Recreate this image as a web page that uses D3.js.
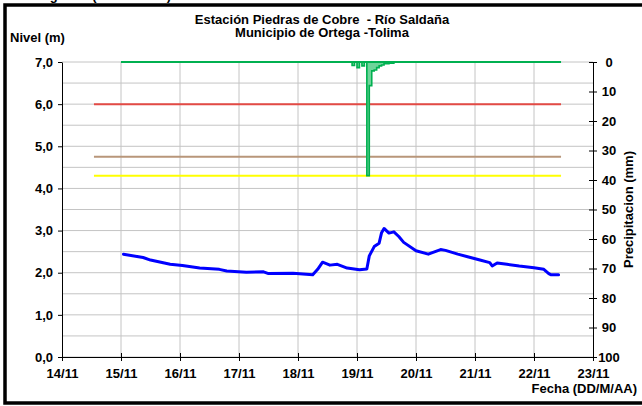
<!DOCTYPE html>
<html>
<head>
<meta charset="utf-8">
<script src="https://cdn.jsdelivr.net/npm/d3@7"></script>
<style>
body { margin: 0; background: #fff; }
svg text { font-family: Arial, "Liberation Sans", sans-serif; font-weight: bold; font-size: 13px; fill: #000; white-space: pre; }
</style>
</head>
<body>
<svg width="642" height="406"></svg>
<script>
"use strict";

const topLeftX = 62;
const topLeftY = 62;
const bottomRightX = 593;
const bottomRightY = 357;

// nivel del rio (m)
const nivelFechas = [
    "2011-11-15 01:00", "2011-11-15 09:00", "2011-11-15 12:00", "2011-11-15 20:00",
    "2011-11-16 01:00", "2011-11-16 08:00", "2011-11-16 16:00", "2011-11-16 19:00",
    "2011-11-17 03:00", "2011-11-17 10:00", "2011-11-17 12:00", "2011-11-17 22:00",
    "2011-11-18 06:00", "2011-11-18 08:00", "2011-11-18 10:00", "2011-11-18 13:00",
    "2011-11-18 16:00", "2011-11-18 20:00", "2011-11-19 01:00", "2011-11-19 04:00",
    "2011-11-19 05:00", "2011-11-19 07:00", "2011-11-19 09:00", "2011-11-19 10:00",
    "2011-11-19 11:00", "2011-11-19 13:00", "2011-11-19 15:00", "2011-11-19 17:00",
    "2011-11-19 19:00", "2011-11-20 00:00", "2011-11-20 05:00", "2011-11-20 10:00",
    "2011-11-20 12:00", "2011-11-20 17:00", "2011-11-20 21:00", "2011-11-21 02:00",
    "2011-11-21 06:00", "2011-11-21 07:00", "2011-11-21 09:00", "2011-11-21 13:00",
    "2011-11-21 18:00", "2011-11-22 00:00", "2011-11-22 04:00", "2011-11-22 06:00",
    "2011-11-22 07:00", "2011-11-22 10:00"
];
const nivelValores = [
    2.44, 2.36, 2.30, 2.20,
    2.17, 2.11, 2.08, 2.04,
    2.01, 2.02, 1.98, 1.99,
    1.95, 2.08, 2.25, 2.18,
    2.20, 2.11, 2.07, 2.09,
    2.40, 2.62, 2.70, 2.95,
    3.05, 2.94, 2.97, 2.86,
    2.72, 2.52, 2.44, 2.55,
    2.53, 2.44, 2.38, 2.30,
    2.24, 2.16, 2.23, 2.20,
    2.16, 2.12, 2.08, 1.98,
    1.95, 1.95
];

// precipitacion (mm)
const lluviaFechas = [
    "2011-11-15 00:00", "2011-11-18 22:00", "2011-11-18 23:00", "2011-11-19 00:00",
    "2011-11-19 01:00", "2011-11-19 02:00", "2011-11-19 03:00", "2011-11-19 04:00",
    "2011-11-19 05:00", "2011-11-19 06:00", "2011-11-19 07:00", "2011-11-19 08:00",
    "2011-11-19 09:00", "2011-11-19 10:00", "2011-11-19 11:00", "2011-11-19 12:00",
    "2011-11-19 13:00", "2011-11-19 14:00", "2011-11-19 15:00", "2011-11-22 11:00"
];
const lluviaValores = [
    0, 1.2, 0, 1.9,
    0, 1.3, 0, 38.5,
    8.0, 3.0, 2.7, 1.9,
    1.3, 1.0, 0.6, 0.6,
    0.4, 0.4, 0, 0
];

// niveles de alerta (m)
const umbrales = [6.0, 4.75, 4.3];
const umbralColores = ["#E34A45", "#B8967A", "#FFFF00"];
const umbralPeriodo = ["2011-11-14 13:00", "2011-11-22 11:00"];

const diasTicks = ["14/11", "15/11", "16/11", "17/11", "18/11", "19/11", "20/11", "21/11", "22/11", "23/11"];
const nivelTicks = [0, 1, 2, 3, 4, 5, 6, 7];
const lluviaTicks = [0, 10, 20, 30, 40, 50, 60, 70, 80, 90, 100];

const parseHora = d3.timeParse("%Y-%m-%d %H:%M");
const parseDia = d3.timeParse("%d/%m/%Y");

function init() {
    const svg = d3.select("svg");
    const dias = diasTicks.map(d => parseDia(d + "/2011"));

    const xScale = d3.scaleTime()
        .domain([dias[0], dias[dias.length - 1]])
        .range([topLeftX, bottomRightX]);
    const yNivel = d3.scaleLinear()
        .domain([0, 7])
        .range([bottomRightY, topLeftY]);
    const yLluvia = d3.scaleLinear()
        .domain([0, 100])
        .range([topLeftY, bottomRightY]);

    // marco exterior
    svg.append("rect")
        .attr("x", 5).attr("y", 5)
        .attr("width", 660).attr("height", 398)
        .attr("fill", "none")
        .attr("stroke", "#000")
        .attr("stroke-width", 3.5);

    svg.append("text")
        .attr("x", 15).attr("y", 0)
        .text("Limnigrama (Nivel diario)");

    // rejilla
    svg.append("g")
        .selectAll("line")
        .data(yNivel.ticks(14))
        .join("line")
            .attr("x1", topLeftX).attr("x2", bottomRightX)
            .attr("y1", d => yNivel(d)).attr("y2", d => yNivel(d))
            .attr("stroke", "#C4C4C4");
    svg.append("g")
        .selectAll("line")
        .data(dias.slice(1, -1))
        .join("line")
            .attr("x1", d => xScale(d)).attr("x2", d => xScale(d))
            .attr("y1", topLeftY).attr("y2", bottomRightY)
            .attr("stroke", "#C4C4C4");

    // umbrales
    const periodo = umbralPeriodo.map(parseHora);
    svg.append("g")
        .selectAll("line")
        .data(umbrales)
        .join("line")
            .attr("x1", xScale(periodo[0])).attr("x2", xScale(periodo[1]))
            .attr("y1", d => yNivel(d)).attr("y2", d => yNivel(d))
            .attr("stroke", (d, i) => umbralColores[i])
            .attr("stroke-width", 2);

    // precipitacion
    const lluvia = lluviaFechas.map((f, i) => ({ fecha: parseHora(f), mm: lluviaValores[i] }));
    svg.append("path")
        .datum(lluvia)
        .attr("fill", "#6FD49A")
        .attr("d", d3.area()
            .curve(d3.curveStepAfter)
            .x(d => xScale(d.fecha))
            .y0(yLluvia(0))
            .y1(d => yLluvia(d.mm)));
    svg.append("path")
        .datum(lluvia)
        .attr("fill", "none")
        .attr("stroke", "#00B050")
        .attr("stroke-width", 1.6)
        .attr("d", d3.line()
            .curve(d3.curveStepAfter)
            .x(d => xScale(d.fecha))
            .y(d => yLluvia(d.mm)));
    svg.append("line")
        .attr("x1", xScale(lluvia[0].fecha)).attr("x2", xScale(lluvia[lluvia.length - 1].fecha))
        .attr("y1", yLluvia(0)).attr("y2", yLluvia(0))
        .attr("stroke", "#00B050")
        .attr("stroke-width", 2.2);

    // nivel
    const nivel = nivelFechas.map((f, i) => ({ fecha: parseHora(f), m: nivelValores[i] }));
    svg.append("path")
        .datum(nivel)
        .attr("fill", "none")
        .attr("stroke", "#0000FF")
        .attr("stroke-width", 3)
        .attr("stroke-linejoin", "round")
        .attr("stroke-linecap", "round")
        .attr("d", d3.line()
            .x(d => xScale(d.fecha))
            .y(d => yNivel(d.m)));

    // ejes
    const ejeIzq = svg.append("g")
        .attr("transform", `translate(${topLeftX},0)`)
        .call(d3.axisLeft(yNivel)
            .tickValues(nivelTicks)
            .tickFormat(d => d.toFixed(1).replace(".", ","))
            .tickSizeInner(4).tickSizeOuter(0).tickPadding(5));

    const ejeInf = svg.append("g")
        .attr("transform", `translate(0,${bottomRightY})`)
        .call(d3.axisBottom(xScale)
            .tickValues(dias)
            .tickFormat(d3.timeFormat("%d/%m"))
            .tickSizeInner(4).tickSizeOuter(0).tickPadding(8));
    ejeInf.selectAll(".tick line").attr("y1", -4);

    const ejeDer = svg.append("g")
        .attr("transform", `translate(${bottomRightX},0)`)
        .call(d3.axisRight(yLluvia)
            .tickValues(lluviaTicks)
            .tickSizeInner(4).tickSizeOuter(0).tickPadding(12));
    ejeDer.selectAll(".tick line").attr("x1", -4);
    ejeDer.selectAll(".tick text").attr("text-anchor", "middle").attr("x", 16);

    [ejeIzq, ejeInf, ejeDer].forEach(g => g.selectAll("path, line").attr("stroke", "#000"));

    // titulos
    svg.append("text")
        .attr("x", 322).attr("y", 24)
        .attr("text-anchor", "middle")
        .text("Estación Piedras de Cobre  - Río Saldaña");
    svg.append("text")
        .attr("x", 322).attr("y", 37)
        .attr("text-anchor", "middle")
        .text("Municipio de Ortega -Tolima");
    svg.append("text")
        .attr("x", 10).attr("y", 42)
        .text("Nivel (m)");
    svg.append("text")
        .attr("x", 637).attr("y", 393)
        .attr("text-anchor", "end")
        .text("Fecha (DD/M/AA)");
    svg.append("text")
        .attr("transform", `translate(633,${(topLeftY + bottomRightY) / 2}) rotate(-90)`)
        .attr("text-anchor", "middle")
        .text("Precipitacion (mm)");
}

window.addEventListener("load", init);
</script>
</body>
</html>
